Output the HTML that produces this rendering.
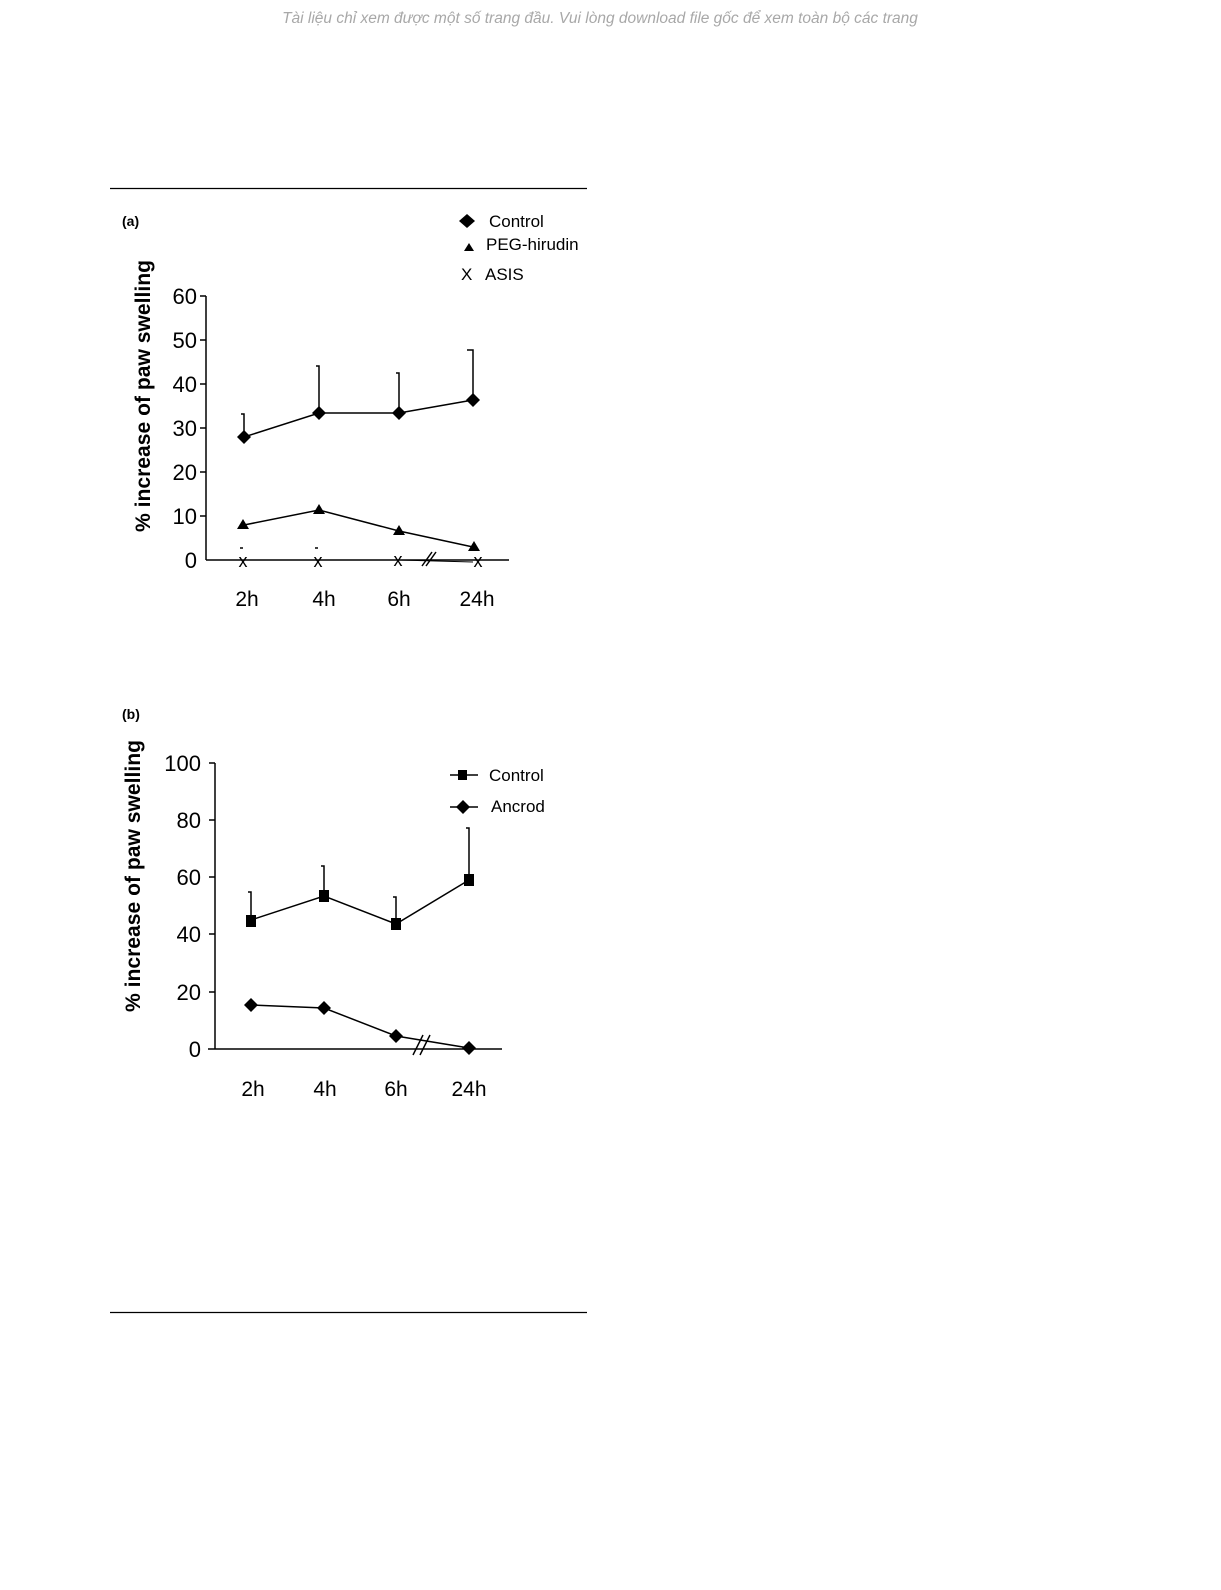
<!DOCTYPE html>
<html><head><meta charset="utf-8"><style>
body{margin:0;background:#fff;width:1221px;height:1585px;overflow:hidden;font-family:"Liberation Sans",sans-serif}
</style></head><body>
<svg width="1221" height="1585" xmlns="http://www.w3.org/2000/svg" font-family="Liberation Sans, DejaVu Sans, sans-serif">
<text x="600" y="23" text-anchor="middle" font-size="15.5" font-style="italic" fill="#a8a8a8">Tài liệu chỉ xem được một số trang đầu. Vui lòng download file gốc để xem toàn bộ các trang</text>
<line x1="110" y1="188.5" x2="587" y2="188.5" stroke="#000" stroke-width="1.2"/>
<line x1="110" y1="1312.5" x2="587" y2="1312.5" stroke="#000" stroke-width="1.2"/>

<text x="122" y="226" font-size="14" font-weight="bold">(a)</text>
<g stroke="#000" stroke-width="1.5" fill="none">
<line x1="206" y1="296" x2="206" y2="560"/>
<line x1="206" y1="560" x2="509" y2="560"/>
<line x1="200" y1="296" x2="206" y2="296"/><line x1="200" y1="340" x2="206" y2="340"/><line x1="200" y1="384" x2="206" y2="384"/><line x1="200" y1="428" x2="206" y2="428"/><line x1="200" y1="472" x2="206" y2="472"/><line x1="200" y1="516" x2="206" y2="516"/>
<path d="M244 437 V414 h-3 M319 413 V366 h-3 M399 413 V373 h-3 M473 400 V350 h-6"/>
<polyline points="244,437 319,413 399,413 473,400"/>
<polyline points="244,525 319,510 399,531 473,547"/>
<path d="M240 548 h3 M315 548 h3"/>
<line x1="422" y1="566" x2="432" y2="552"/><line x1="426" y1="566" x2="436" y2="552"/>
<line x1="399" y1="560" x2="473" y2="562" stroke-width="1"/>
</g>
<g fill="#000">
<path d="M244 430 l7 7 l-7 7 l-7 -7z"/><path d="M319 406 l7 7 l-7 7 l-7 -7z"/><path d="M399 406 l7 7 l-7 7 l-7 -7z"/><path d="M473 393 l7 7 l-7 7 l-7 -7z"/>
<path d="M243 519 l6 10 h-12z"/><path d="M319 504 l6 10 h-12z"/><path d="M399 525 l6 10 h-12z"/><path d="M474 541 l6 10 h-12z"/>
</g>
<g font-size="18" text-anchor="middle">
<text x="243" y="567">x</text><text x="318" y="567">x</text><text x="398" y="566">x</text><text x="478" y="567">x</text>
</g>
<g font-size="22" text-anchor="end">
<text x="197" y="304">60</text><text x="197" y="348">50</text><text x="197" y="392">40</text><text x="197" y="436">30</text><text x="197" y="480">20</text><text x="197" y="524">10</text><text x="197" y="568">0</text>
</g>
<g font-size="21" text-anchor="middle">
<text x="247" y="606">2h</text><text x="324" y="606">4h</text><text x="399" y="606">6h</text><text x="477" y="606">24h</text>
</g>
<text transform="translate(150,396) rotate(-90)" font-size="21" font-weight="bold" text-anchor="middle" textLength="272" lengthAdjust="spacingAndGlyphs">% increase of paw swelling</text>
<path d="M467 214 l8 7 l-8 7 l-8 -7z" fill="#000"/>
<text x="489" y="227" font-size="17">Control</text>
<path d="M469 243 l5 8 h-10z" fill="#000"/>
<text x="486" y="250" font-size="17">PEG-hirudin</text>
<text x="461" y="280" font-size="17">X</text><text x="485" y="280" font-size="17">ASIS</text>

<text x="122" y="719" font-size="14" font-weight="bold">(b)</text>
<g stroke="#000" stroke-width="1.5" fill="none">
<line x1="215" y1="763" x2="215" y2="1049"/>
<line x1="208" y1="1049" x2="502" y2="1049"/>
<line x1="209" y1="763" x2="215" y2="763"/><line x1="209" y1="820" x2="215" y2="820"/><line x1="209" y1="877" x2="215" y2="877"/><line x1="209" y1="934" x2="215" y2="934"/><line x1="209" y1="992" x2="215" y2="992"/>
<path d="M251 920 V892 h-3 M324 896 V866 h-3 M396 924 V897 h-3 M469 880 V828 h-3"/>
<polyline points="251,920 324,896 396,924 469,880"/>
<polyline points="251,1005 324,1008 396,1036 469,1048"/>
<line x1="413" y1="1055" x2="423" y2="1035"/><line x1="420" y1="1055" x2="430" y2="1035"/>
<line x1="450" y1="775" x2="478" y2="775"/><line x1="450" y1="807" x2="478" y2="807"/>
</g>
<g fill="#000">
<rect x="246" y="915" width="10" height="12"/><rect x="319" y="890" width="10" height="12"/><rect x="391" y="918" width="10" height="12"/><rect x="464" y="874" width="10" height="12"/>
<path d="M251 998 l7 7 l-7 7 l-7 -7z"/><path d="M324 1001 l7 7 l-7 7 l-7 -7z"/><path d="M396 1029 l7 7 l-7 7 l-7 -7z"/><path d="M469 1041 l7 7 l-7 7 l-7 -7z"/>
<rect x="458" y="770" width="9" height="10"/>
<path d="M463 800 l7 7 l-7 7 l-7 -7z"/>
</g>
<g font-size="22" text-anchor="end">
<text x="201" y="771">100</text><text x="201" y="828">80</text><text x="201" y="885">60</text><text x="201" y="942">40</text><text x="201" y="1000">20</text><text x="201" y="1057">0</text>
</g>
<g font-size="21" text-anchor="middle">
<text x="253" y="1096">2h</text><text x="325" y="1096">4h</text><text x="396" y="1096">6h</text><text x="469" y="1096">24h</text>
</g>
<text transform="translate(140,876) rotate(-90)" font-size="21" font-weight="bold" text-anchor="middle" textLength="272" lengthAdjust="spacingAndGlyphs">% increase of paw swelling</text>
<text x="489" y="781" font-size="17">Control</text>
<text x="491" y="812" font-size="17">Ancrod</text>
</svg>
</body></html>
